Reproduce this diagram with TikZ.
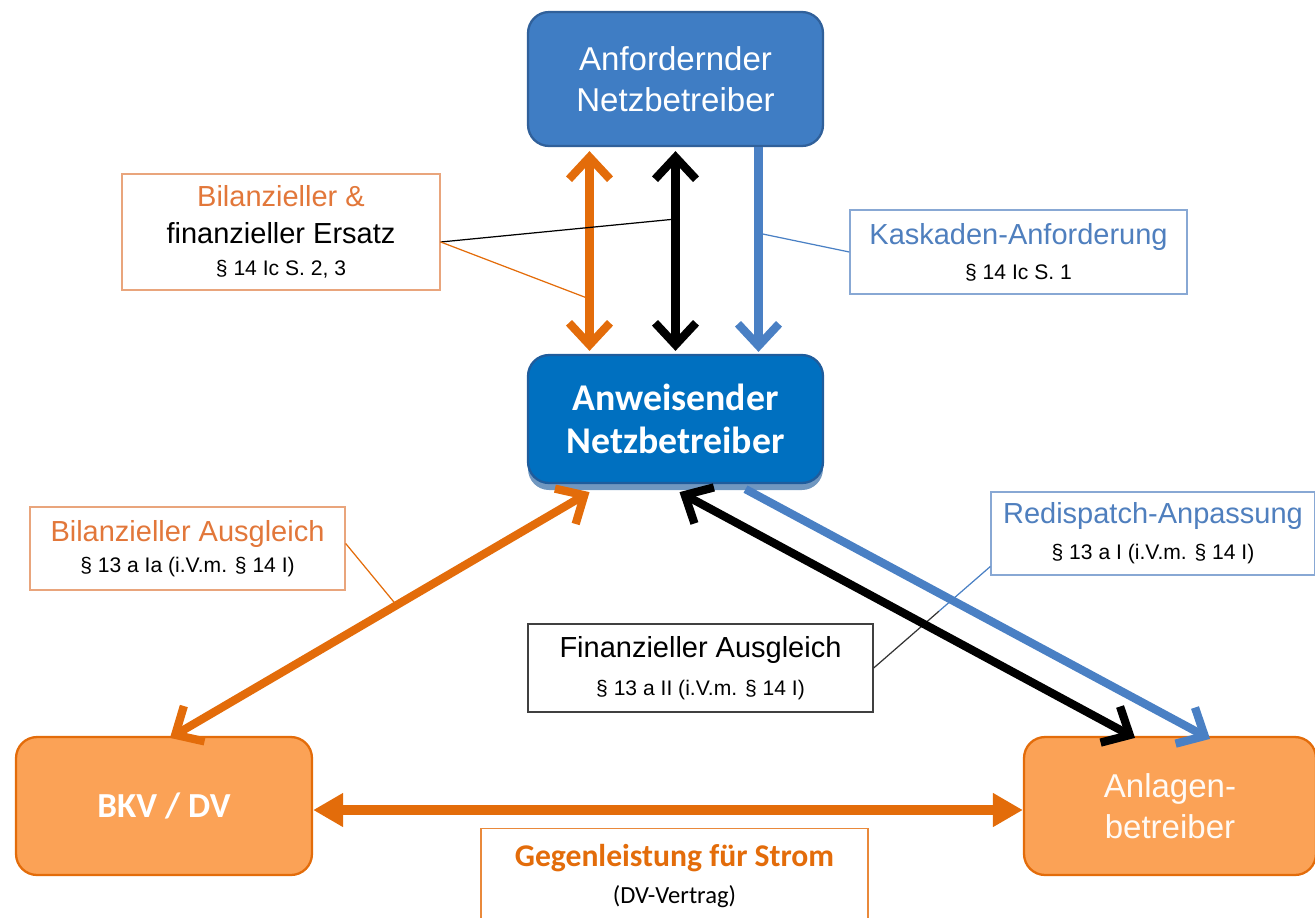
\documentclass[tikz,border=0pt]{standalone}
\usepackage{fontspec}
\setmainfont{Liberation Sans}
\newfontfamily\carlito{Carlito}
\usetikzlibrary{arrows.meta,calc,shadows}

\definecolor{anfblue}{HTML}{3F7DC4}
\definecolor{anfline}{HTML}{30609A}
\definecolor{anwblue}{HTML}{0070C0}
\definecolor{anwline}{HTML}{1F5C9C}
\definecolor{boxorange}{HTML}{FBA256}
\definecolor{lineorange}{HTML}{E36C0A}
\definecolor{txtorange}{HTML}{E2773A}
\definecolor{frameorange}{HTML}{E9A57C}
\definecolor{txtblue}{HTML}{4F7FBE}
\definecolor{frameblue}{HTML}{88A8D4}
\definecolor{arrblue}{HTML}{4A80C4}

\begin{document}
\begin{tikzpicture}[x=0.02cm, y=-0.02cm,
  party/.style={draw, line width=1.3pt, rounded corners=0.42cm, align=center,
    minimum width=5.9cm, minimum height=2.68cm, inner sep=0pt},
  lawbox/.style={draw, line width=0.8pt, fill=white, align=center, inner sep=0pt,
    font=\fontsize{16.5}{21}\selectfont},
  fat/.style={line width=4.7pt, >={Straight Barb[length=0.44cm,width=0.82cm]}},
  leader/.style={line width=0.7pt}]

\useasboundingbox (0,0) rectangle (1315,917);
\clip (0,0) rectangle (1315,917);

% parties
\node [party, fill=anfblue, draw=anfline, text=white,
  font=\fontsize{18.8}{23.3}\selectfont] (anf) at (675.5,79) {Anfordernder\\Netzbetreiber};
\node [party, fill=anwblue, draw=anwline, minimum height=2.56cm, text=white,
  font=\carlito\bfseries\fontsize{21.5}{24.5}\selectfont,
  drop shadow={shadow xshift=0pt, shadow yshift=-4pt, fill=anwline!80, opacity=0.8}]
  (anw) at (675.5,419) {Anweisender\\Netzbetreiber};
\node [party, fill=boxorange, draw=lineorange, minimum width=5.92cm, minimum height=2.76cm,
  text=white, font=\carlito\bfseries\fontsize{20}{24}\selectfont] (bkv) at (164,806) {BKV / DV};
\node [party, fill=boxorange, draw=lineorange, minimum width=5.84cm, minimum height=2.76cm,
  text=orange!4, font=\fontsize{18.8}{23}\selectfont] (anl) at (1170,806) {Anlagen-\\betreiber};

% legal notes
\node [lawbox, draw=frameorange, minimum width=6.36cm, minimum height=2.32cm] (bil) at (281,232)
  {\textcolor{txtorange}{Bilanzieller \&}\\finanzieller Ersatz\\[-3pt]{\fontsize{12}{15}\selectfont § 14 Ic S. 2, 3}};
\node [lawbox, draw=frameblue, minimum width=6.74cm, minimum height=1.68cm] (kas) at (1018.5,252)
  {\textcolor{txtblue}{Kaskaden-Anforderung}\\[-1pt]{\fontsize{12}{15}\selectfont § 14 Ic S. 1}};
\node [lawbox, draw=frameorange, minimum width=6.3cm, minimum height=1.66cm] (bila) at (187.5,548.5)
  {\textcolor{txtorange}{Bilanzieller Ausgleich}\\[-3.5pt]{\fontsize{12}{15}\selectfont § 13 a Ia (i.V.m. § 14 I)}};
\node [lawbox, draw=frameblue, minimum width=6.48cm, minimum height=1.66cm] (red) at (1153,533.5)
  {\textcolor{txtblue}{Redispatch-Anpassung}\\[-0.5pt]{\fontsize{12}{15}\selectfont § 13 a I (i.V.m. § 14 I)}};
\node [lawbox, draw=black!75, minimum width=6.9cm, minimum height=1.76cm] (fin) at (700.5,668)
  {Finanzieller Ausgleich\\[0.5pt]{\fontsize{12}{15}\selectfont § 13 a II (i.V.m. § 14 I)}};
\node [lawbox, draw=lineorange!80, minimum width=7.74cm, minimum height=1.9cm,
  font=\carlito\fontsize{18}{21}\selectfont] (geg) at (674.5,876)
  {\textcolor{lineorange}{\bfseries Gegenleistung für Strom}\\{\fontsize{14}{16}\selectfont (DV-Vertrag)}};

% financial compensation / redispatch
\coordinate (redpt) at ($(red.west)+(0,33)$);
\coordinate (finmid) at ($(fin.east)!0.56!(redpt)$);
\draw [leader, black!80] (fin.east) -- (finmid);
\draw [leader, arrblue] (finmid) -- (redpt);

% cascade
\draw [fat, lineorange, <->] ($(anf.south)+(-86,4)$) -- coordinate[pos=0.74] (overt) ($(anw.north)+(-86,-3)$);
\draw [fat, black, <->] ($(anf.south)+(0,4)$) -- coordinate[pos=0.34] (bvert) ($(anw.north)+(0,-3)$);
\draw [fat, arrblue, ->] ($(anf.south)+(83,0)$) -- coordinate[pos=0.42] (kvert) ($(anw.north)+(83,-2)$);

% dispatch
\draw [fat, lineorange, <->] ($(anw.south)+(-86,8)$) -- coordinate[pos=0.46] (odiag) ($(bkv.north)+(6,2)$);
\draw [fat, black, <->] ($(anw.south)+(4,8)$) -- ($(anl.north)+(-35,2)$);
\draw [fat, arrblue, ->] ($(anw.south)+(70,5)$) -- ($(anl.north)+(40,3)$);

% counter performance
\draw [line width=5.7pt, lineorange, >={Triangle[length=0.6cm,width=0.64cm]}, <->]
  ($(bkv.east)+(0,4)$) -- ($(anl.west)+(0,4)$);

% leaders
\draw [leader, black] ($(bil.east)+(0,10)$) -- (bvert);
\draw [leader, lineorange] ($(bil.east)+(0,10)$) -- (overt);
\draw [leader, arrblue] (kas.west) -- (kvert);
\draw [leader, lineorange] ($(bila.east)+(0,-5)$) -- (odiag);
\end{tikzpicture}
\end{document}
